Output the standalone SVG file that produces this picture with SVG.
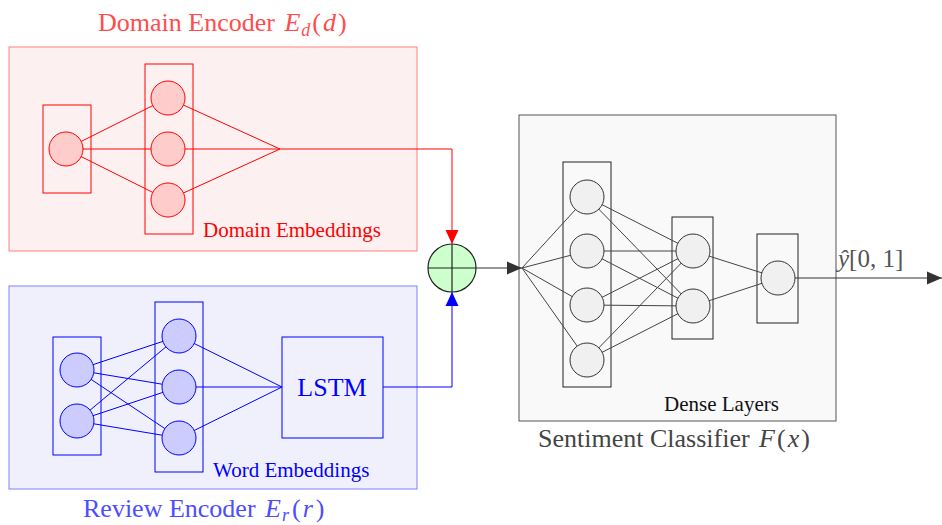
<svg xmlns="http://www.w3.org/2000/svg" width="942" height="525" viewBox="0 0 942 525">
<style>
text{font-family:"Liberation Serif","Times New Roman",serif}
.it{font-style:italic}
.rl{stroke:#f00;stroke-width:1;fill:none}
.bl{stroke:#00f;stroke-width:1;fill:none}
.gl{stroke:#444;stroke-width:1;fill:none}
.rn{fill:#ffcccc;stroke:#f00;stroke-width:1}
.bn{fill:#ccccff;stroke:#00f;stroke-width:1}
.gn{fill:#f0f0f0;stroke:#333;stroke-width:1}
</style>
<defs>
<marker id="ar" markerUnits="userSpaceOnUse" markerWidth="14" markerHeight="14" refX="14" refY="7" orient="auto"><path d="M0,0.5 L14,7 L0,13.5 Z" fill="#f00"/></marker>
<marker id="ab" markerUnits="userSpaceOnUse" markerWidth="14" markerHeight="14" refX="14" refY="7" orient="auto"><path d="M0,0.5 L14,7 L0,13.5 Z" fill="#00f"/></marker>
<marker id="ag" markerUnits="userSpaceOnUse" markerWidth="15" markerHeight="14" refX="15" refY="7" orient="auto"><path d="M0,0.5 L15,7 L0,13.5 Z" fill="#333"/></marker>
</defs>

<g id="domain-encoder">
<rect x="9" y="47" width="408" height="204" fill="#fdf0f0" stroke="#ff8080" stroke-width="1"/>
<text x="98" y="31" font-size="26" fill="#ff4d4d">Domain Encoder <tspan class="it" dx="3">E</tspan><tspan class="it" font-size="18" dx="1" dy="5">d</tspan><tspan dx="2" dy="-5">(</tspan><tspan class="it" dx="2">d</tspan><tspan dx="2">)</tspan></text>
<rect x="43" y="105" width="48" height="88" class="rl"/>
<rect x="145" y="64" width="48" height="170" class="rl"/>
<g class="rl">
<line x1="66" y1="149" x2="168" y2="98"/><line x1="66" y1="149" x2="168" y2="149"/><line x1="66" y1="149" x2="168" y2="200"/>
<line x1="168" y1="98" x2="280" y2="149"/><line x1="168" y1="149" x2="280" y2="149"/><line x1="168" y1="200" x2="280" y2="149"/>
</g>
<circle cx="66" cy="149" r="17" class="rn"/>
<circle cx="168" cy="98" r="17" class="rn"/>
<circle cx="168" cy="149" r="17" class="rn"/>
<circle cx="168" cy="200" r="17" class="rn"/>
<text x="203" y="237" font-size="21" fill="#f00">Domain Embeddings</text>
</g>

<g id="review-encoder">
<rect x="9" y="286" width="408" height="203" fill="#f0f0fc" stroke="#8080ff" stroke-width="1"/>
<rect x="53" y="337" width="48" height="118" class="bl"/>
<rect x="155" y="302" width="48" height="170" class="bl"/>
<g class="bl">
<line x1="77" y1="370" x2="179" y2="336"/><line x1="77" y1="370" x2="179" y2="387"/><line x1="77" y1="370" x2="179" y2="438"/>
<line x1="77" y1="421" x2="179" y2="336"/><line x1="77" y1="421" x2="179" y2="387"/><line x1="77" y1="421" x2="179" y2="438"/>
<line x1="179" y1="336" x2="282" y2="387"/><line x1="179" y1="387" x2="282" y2="387"/><line x1="179" y1="438" x2="282" y2="387"/>
</g>
<circle cx="77" cy="370" r="17" class="bn"/>
<circle cx="77" cy="421" r="17" class="bn"/>
<circle cx="179" cy="336" r="17" class="bn"/>
<circle cx="179" cy="387" r="17" class="bn"/>
<circle cx="179" cy="438" r="17" class="bn"/>
<text x="213" y="477" font-size="21" fill="#00f">Word Embeddings</text>
<text x="83" y="517" font-size="26" fill="#4d4dff">Review Encoder <tspan class="it" dx="3">E</tspan><tspan class="it" font-size="18" dx="1" dy="4">r</tspan><tspan dx="3" dy="-4">(</tspan><tspan class="it" dx="2">r</tspan><tspan dx="3">)</tspan></text>
</g>

<g id="lstm">
<rect x="282" y="337" width="101" height="101" fill="none" stroke="#00f" stroke-width="1"/>
<text x="332" y="396" font-size="26" fill="#00f" text-anchor="middle">LSTM</text>
</g>

<g id="concat">
<circle cx="452" cy="268" r="24" fill="#ccffcc" stroke="#222" stroke-width="1.2"/>
<line x1="428" y1="268" x2="476" y2="268" stroke="#222" stroke-width="1.2"/>
<line x1="452" y1="244" x2="452" y2="292" stroke="#222" stroke-width="1.2"/>
</g>

<g id="sentiment-classifier">
<rect x="519" y="115" width="317" height="306" fill="#f9f9f9" stroke="#555" stroke-width="1"/>
<rect x="563" y="162" width="48" height="225" fill="none" stroke="#222" stroke-width="1"/>
<rect x="672" y="217" width="41" height="122" fill="none" stroke="#222" stroke-width="1"/>
<rect x="757" y="234" width="41" height="89" fill="none" stroke="#222" stroke-width="1"/>
<g class="gl">
<line x1="522" y1="268" x2="587" y2="197"/><line x1="522" y1="268" x2="587" y2="251"/><line x1="522" y1="268" x2="587" y2="305"/><line x1="522" y1="268" x2="587" y2="360"/>
<line x1="587" y1="197" x2="693" y2="251"/><line x1="587" y1="197" x2="693" y2="306"/>
<line x1="587" y1="251" x2="693" y2="251"/><line x1="587" y1="251" x2="693" y2="306"/>
<line x1="587" y1="305" x2="693" y2="251"/><line x1="587" y1="305" x2="693" y2="306"/>
<line x1="587" y1="360" x2="693" y2="251"/><line x1="587" y1="360" x2="693" y2="306"/>
<line x1="693" y1="251" x2="778" y2="278"/><line x1="693" y1="306" x2="778" y2="278"/>
</g>
<circle cx="587" cy="197" r="17" class="gn"/>
<circle cx="587" cy="251" r="17" class="gn"/>
<circle cx="587" cy="305" r="17" class="gn"/>
<circle cx="587" cy="360" r="17" class="gn"/>
<circle cx="693" cy="251" r="17" class="gn"/>
<circle cx="693" cy="306" r="17" class="gn"/>
<circle cx="778" cy="278" r="17" class="gn"/>
<text x="664" y="411" font-size="21" fill="#111">Dense Layers</text>
<text x="538" y="447" font-size="26" fill="#444">Sentiment Classifier <tspan class="it" dx="3">F</tspan><tspan dx="2">(</tspan><tspan class="it" dx="2">x</tspan><tspan dx="2">)</tspan></text>
</g>

<g id="connectors">
<polyline points="280,149 452,149 452,244" class="rl" marker-end="url(#ar)"/>
<polyline points="383,387 452,387 452,292" class="bl" marker-end="url(#ab)"/>
<line x1="476" y1="268" x2="522" y2="268" stroke="#333" stroke-width="1" marker-end="url(#ag)"/>
<line x1="795" y1="278" x2="942" y2="278" stroke="#333" stroke-width="1" marker-end="url(#ag)"/>
<text x="838" y="267" font-size="25" fill="#555"><tspan class="it">ŷ</tspan>[0, 1]</text>
</g>
</svg>
